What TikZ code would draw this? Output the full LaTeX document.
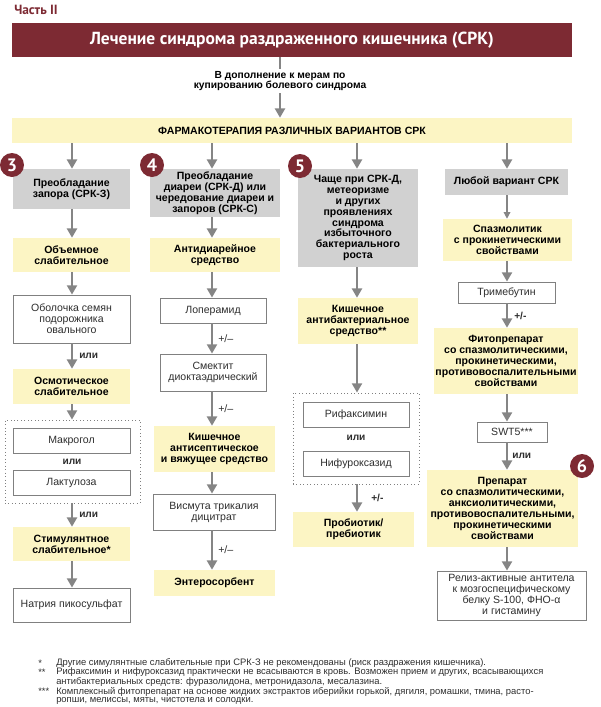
\documentclass[tikz,border=0pt]{standalone}
\usepackage{fontspec}
\setmainfont{Liberation Sans}
\newfontfamily\ptsans{PT Sans}
\usetikzlibrary{arrows.meta}
\definecolor{dred}{HTML}{7D2A33}
\definecolor{yel}{HTML}{FCF5C4}
\definecolor{gry}{HTML}{D1D1D1}
\definecolor{arrc}{HTML}{858585}
\definecolor{bord}{HTML}{808080}
\definecolor{txt}{HTML}{2E2E2E}
\newdimen\px \px=0.75pt
\tikzset{
  base/.style={inner sep=0pt, align=center, font=\fontsize{7.9}{8.2}\selectfont},
  ybox/.style={base, fill=yel, font=\bfseries\fontsize{7.9}{8.2}\selectfont, text=black},
  gbox/.style={base, fill=gry, font=\bfseries\fontsize{7.9}{8.2}\selectfont, text=black},
  wbox/.style={base, draw=bord, line width=0.6pt, fill=white, text=txt},
  dotbox/.style={draw=bord, dotted, line width=0.6pt, inner sep=0pt},
  arr/.style={draw=arrc, line width=1.9pt, -{Triangle[width=7.5pt,length=7pt]}},
  thinarr/.style={draw=arrc, line width=0.9pt, -{Triangle[width=5pt,length=5pt]}},
  lbl/.style={font=\bfseries\fontsize{7.6}{8}\selectfont, inner sep=0pt, text=txt},
  pm/.style={font=\fontsize{8}{8}\selectfont, inner sep=0pt, text=txt},
  num/.style={circle, fill=dred, text=white, minimum size=24\px, inner sep=0pt, font=\ptsans\bfseries\fontsize{13.5}{13.5}\selectfont},
  foot/.style={anchor=west, inner sep=0pt, font=\fontsize{7.05}{7.2}\selectfont, text=txt},
}
\begin{document}
\begin{tikzpicture}[x=0.75pt,y=-0.75pt]
\useasboundingbox (0,0) rectangle (600,707);
\coordinate (c1) at (72,0);
\coordinate (c2) at (212,0);
\coordinate (c3) at (357,0);
\coordinate (c4) at (507,0);

\node[anchor=west, inner sep=0pt, text=dred, font=\ptsans\bfseries\fontsize{10}{10}\selectfont] (part) at (14,10) {Часть II};
\node[fill=dred, minimum width=560\px, minimum height=34\px, inner sep=0pt, text=white, font=\ptsans\bfseries\fontsize{13.1}{13.1}\selectfont] (title) at (292,40) {Лечение синдрома раздраженного кишечника (СРК)};
\node[inner sep=1.5pt, align=center, font=\bfseries\fontsize{7.7}{8}\selectfont] (add) at (280,81) {В дополнение к мерам по\\купированию болевого синдрома};
\node[ybox, minimum width=560\px, minimum height=25\px, font=\bfseries\fontsize{7.9}{8}\selectfont] (pharm) at (292,130.5) {ФАРМАКОТЕРАПИЯ РАЗЛИЧНЫХ ВАРИАНТОВ СРК};
\draw[draw=arrc, line width=1.9pt] (title.south -| add) -- (add.north);
\draw[arr] (add.south) -- (pharm.north -| add);

% column 1
\node[gbox, minimum width=117\px, minimum height=40\px] (g1) at (71.5,189) {Преобладание\\запора (СРК-З)};
\node[ybox, minimum width=117\px, minimum height=34\px] (y1) at (71.5,255) {Объемное\\слабительное};
\node[wbox, minimum width=117\px, minimum height=48\px] (w1) at (71.5,319) {Оболочка семян\\подорожника\\овального};
\node[ybox, minimum width=117\px, minimum height=35\px] (y2) at (71.5,386.5) {Осмотическое\\слабительное};
\node[dotbox, minimum width=135\px, minimum height=83\px] (d1) at (72.5,461.5) {};
\node[wbox, minimum width=117\px, minimum height=25\px] (w2) at (71.5,440.5) {Макрогол};
\node[lbl] (or1) at (72,462) {или};
\node[wbox, minimum width=117\px, minimum height=25\px] (w3) at (71.5,482.5) {Лактулоза};
\node[ybox, minimum width=117\px, minimum height=34\px] (y3) at (71.5,544) {Стимулянтное\\слабительное*};
\node[wbox, minimum width=117\px, minimum height=34\px] (w4) at (71.5,605) {Натрия пикосульфат};
\node[num] (n3) at (12,165) {3};

\draw[arr] (pharm.south -| c1) -- (g1.north -| c1);
\draw[arr] (g1.south -| c1) -- (y1.north -| c1);
\draw[arr] (y1.south -| c1) -- (w1.north -| c1);
\draw[arr] (w1.south -| c1) -- node[lbl, anchor=west, xshift=6\px] {или} (y2.north -| c1);
\draw[arr] (y2.south -| c1) -- (d1.north -| c1);
\draw[arr] (d1.south -| c1) -- node[lbl, anchor=west, xshift=6\px] {или} (y3.north -| c1);
\draw[arr] (y3.south -| c1) -- (w4.north -| c1);

% column 2
\node[gbox, minimum width=130\px, minimum height=48\px] (g2) at (215,193) {Преобладание\\диареи (СРК-Д) или\\чередование диареи и\\запоров (СРК-С)};
\node[ybox, minimum width=130\px, minimum height=34\px] (y4) at (215,255) {Антидиарейное\\средство};
\node[wbox, minimum width=106\px, minimum height=25\px] (w5) at (213,310.5) {Лоперамид};
\node[wbox, minimum width=106\px, minimum height=37\px] (w6) at (213,372.5) {Смектит\\диоктаэдрический};
\node[ybox, minimum width=121\px, minimum height=46\px] (y5) at (214.5,449) {Кишечное\\антисептическое\\и вяжущее средство};
\node[wbox, minimum width=122\px, minimum height=36\px] (w7) at (214,512) {Висмута трикалия\\дицитрат};
\node[ybox, minimum width=121\px, minimum height=26\px] (y6) at (214.5,583) {Энтеросорбент};
\node[num] (n4) at (152,165) {4};

\draw[arr] (pharm.south -| c2) -- (g2.north -| c2);
\draw[arr] (g2.south -| c2) -- (y4.north -| c2);
\draw[arr] (y4.south -| c2) -- (w5.north -| c2);
\draw[arr] (w5.south -| c2) -- node[pm, anchor=west, xshift=5\px] {+/–} (w6.north -| c2);
\draw[arr] (w6.south -| c2) -- node[pm, anchor=west, xshift=5\px] {+/–} (y5.north -| c2);
\draw[arr] (y5.south -| c2) -- (w7.north -| c2);
\draw[arr] (w7.south -| c2) -- node[pm, anchor=west, xshift=5\px] {+/–} (y6.north -| c2);

% column 3
\node[gbox, minimum width=120\px, minimum height=98\px] (g3) at (358,218) {Чаще при СРК-Д,\\метеоризме\\и других\\проявлениях\\синдрома\\избыточного\\бактериального\\роста};
\node[ybox, minimum width=120\px, minimum height=46\px] (y7) at (358,321) {Кишечное\\антибактериальное\\средство**};
\node[dotbox, minimum width=126\px, minimum height=91\px] (d2) at (356,438.5) {};
\node[wbox, minimum width=106\px, minimum height=25\px] (w8) at (356,414.5) {Рифаксимин};
\node[lbl] (or2) at (356,438) {или};
\node[wbox, minimum width=106\px, minimum height=25\px] (w9) at (356,463.5) {Нифуроксазид};
\node[ybox, minimum width=121\px, minimum height=35\px] (y8) at (353.5,529.5) {Пробиотик/\\пребиотик};
\node[num] (n5) at (300,166) {5};

\draw[arr] (pharm.south -| c3) -- (g3.north -| c3);
\draw[arr] (g3.south -| c3) -- (y7.north -| c3);
\draw[arr] (y7.south -| c3) -- (d2.north -| c3);
\draw[arr] (d2.south -| c3) -- node[lbl, anchor=west, xshift=13\px] {+/-} (y8.north -| c3);

% column 4
\node[gbox, minimum width=123\px, minimum height=26\px] (g4) at (506.5,182) {Любой вариант СРК};
\node[ybox, minimum width=129\px, minimum height=42\px] (y9) at (507.5,240) {Спазмолитик\\с прокинетическими\\свойствами};
\node[wbox, minimum width=97\px, minimum height=21\px] (w10) at (506.5,292.5) {Тримебутин};
\node[ybox, minimum width=144\px, minimum height=66\px] (y10) at (506,361) {Фитопрепарат\\со спазмолитическими,\\прокинетическими,\\противовоспалительными\\свойствами};
\node[wbox, minimum width=70\px, minimum height=20\px] (w11) at (512,432) {SWT5***};
\node[ybox, minimum width=151\px, minimum height=77\px] (y11) at (502.5,508.5) {Препарат\\со спазмолитическими,\\анксиолитическими,\\противовоспалительными,\\прокинетическими\\свойствами};
\node[wbox, minimum width=149\px, minimum height=49\px] (w12) at (511.5,595.5) {Релиз-активные антитела\\к мозгоспецифическому\\белку S-100, ФНО-α\\и гистамину};
\node[num] (n6) at (582,466) {6};

\draw[arr] (pharm.south -| c4) -- (g4.north -| c4);
\draw[thinarr] (g4.south -| c4) -- (y9.north -| c4);
\draw[arr] (y9.south -| c4) -- (w10.north -| c4);
\draw[arr] (w10.south -| c4) -- node[lbl, anchor=west, xshift=6\px] {+/-} (y10.north -| c4);
\draw[arr] (y10.south -| c4) -- (w11.north -| c4);
\draw[arr] (w11.south -| c4) -- node[lbl, anchor=west, xshift=4\px] {или} (y11.north -| c4);
\draw[arr] (y11.south -| c4) -- (w12.north -| c4);

% footnotes
\node[foot] (f1m) at (38,663) {*};
\node[foot] (f1) at (56,663) {Другие симулянтные слабительные при СРК-З не рекомендованы (риск раздражения кишечника).};
\node[foot] (f2m) at (38,672.5) {**};
\node[foot] (f2) at (56,672.5) {Рифаксимин и нифуроксазид практически не всасываются в кровь. Возможен прием и других, всасывающихся};
\node[foot] (f2b) at (56,682) {антибактериальных средств: фуразолидона, метронидазола, месалазина.};
\node[foot] (f3m) at (38,691.5) {***};
\node[foot] (f3) at (56,691.5) {Комплексный фитопрепарат на основе жидких экстрактов иберийки горькой, дягиля, ромашки, тмина, расто-};
\node[foot] (f3b) at (56,701) {ропши, мелиссы, мяты, чистотела и солодки.};
\end{tikzpicture}
\end{document}
